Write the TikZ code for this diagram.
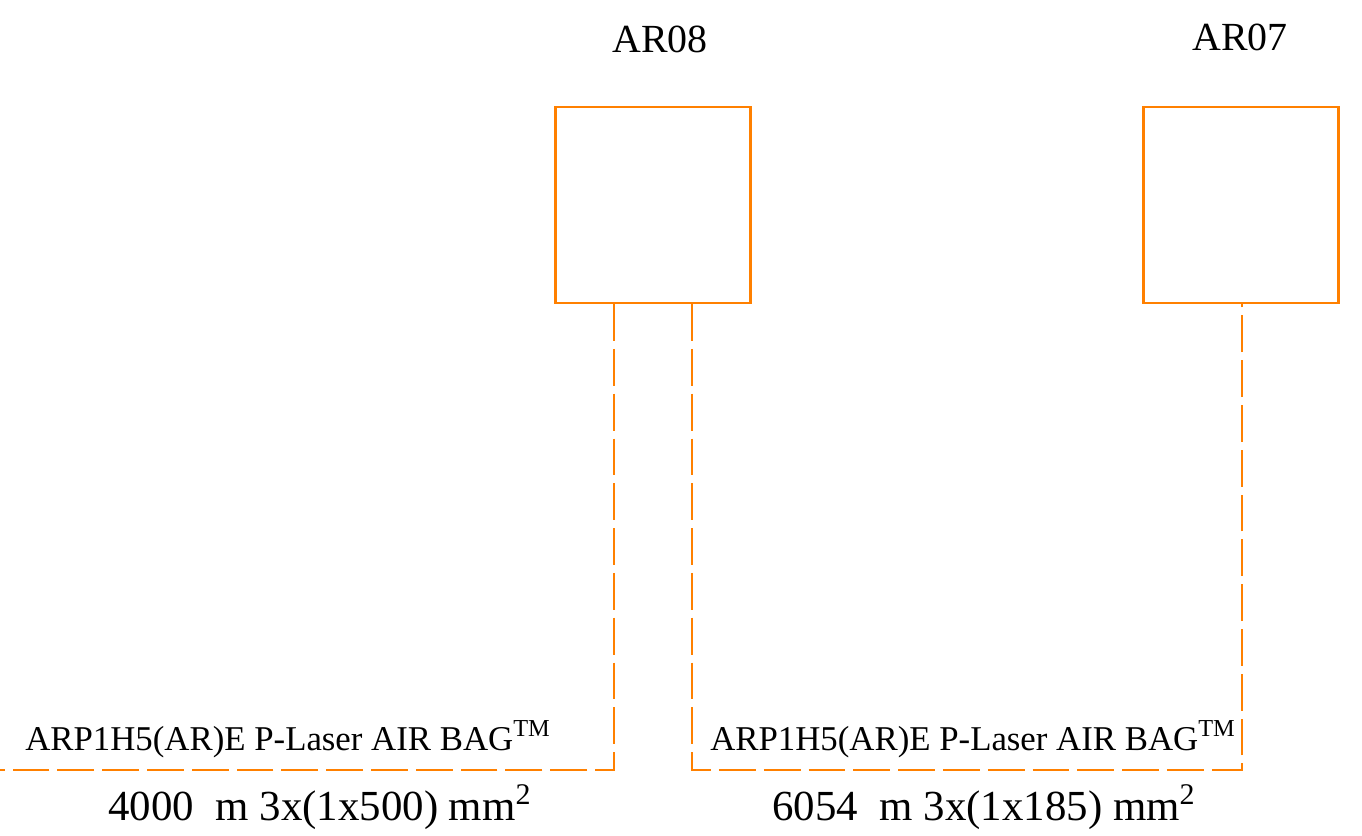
\documentclass[tikz,border=0pt]{standalone}
\usepackage{fontspec}
\setmainfont{Liberation Serif}
\definecolor{cableorange}{RGB}{255,128,0}
\begin{document}
\begin{tikzpicture}[x=0.02cm,y=-0.02cm,
  panel/.style={draw=cableorange,line width=1.3pt,minimum width=3.9cm,minimum height=3.92cm,inner sep=0pt},
  cable/.style={draw=cableorange,line width=1.3pt,dash pattern=on 21pt off 4.5pt},
  tag/.style={anchor=base,inner sep=0pt,font=\fontsize{22.7}{27}\selectfont},
  cabletype/.style={anchor=base,inner sep=0pt,font=\fontsize{19.8}{24}\selectfont},
  cablesize/.style={anchor=base,inner sep=0pt,font=\fontsize{24.4}{29}\selectfont}]
\useasboundingbox (0,0) rectangle (1362,835);

% panels
\node[panel] (ar08) at (653,205) {};
\node[panel] (ar07) at (1241,205) {};
\node[tag] (ar08label) at (660,52) {AR08};
\node[tag] (ar07label) at (1240,51) {AR07};

% cable ends and corners
\coordinate (westend) at (0,770);
\coordinate (bend1) at (614,770);
\coordinate (bend2) at (692,770);
\coordinate (bend3) at (1242,770);

\draw[cable] (bend1 |- ar08.south) -- (bend1) -- (westend);
\draw[cable] (bend2 |- ar08.south) -- (bend2) -- (bend3) -- (bend3 |- ar07.south);

% cable labels
\node[cabletype] (type1) at (288,750) {ARP1H5(AR)E P-Laser AIR BAG\textsuperscript{TM}};
\node[cabletype] (type2) at (973,750) {ARP1H5(AR)E P-Laser AIR BAG\textsuperscript{TM}};
\node[cablesize] (size1) at (320,820) {4000~~m 3x(1x500) mm\textsuperscript{2}};
\node[cablesize] (size2) at (984,820) {6054~~m 3x(1x185) mm\textsuperscript{2}};

\end{tikzpicture}
\end{document}
